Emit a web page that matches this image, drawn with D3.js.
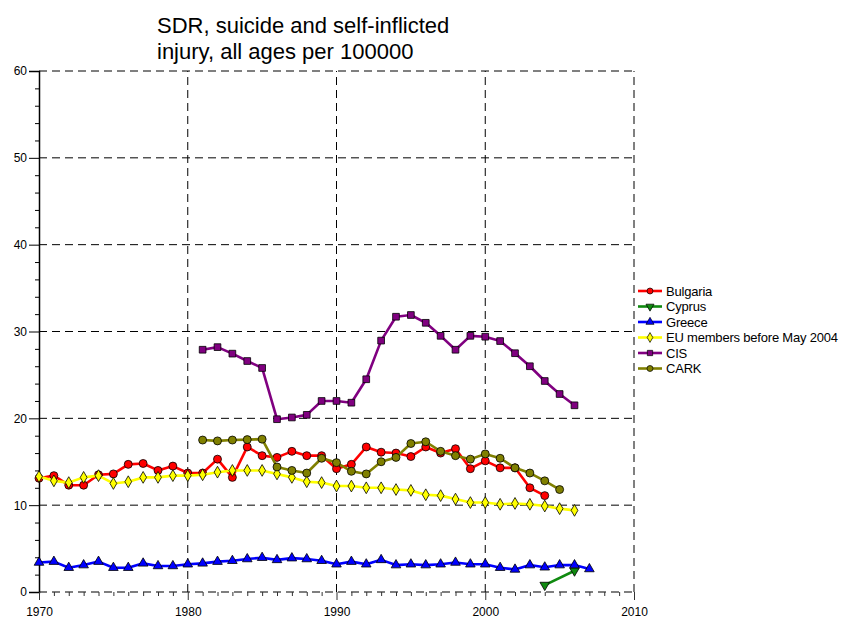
<!DOCTYPE html>
<html>
<head>
<meta charset="utf-8">
<script src="https://cdn.jsdelivr.net/npm/d3@7"></script>
<style>
  body { margin: 0; background: #fff; }
  svg { font-family: "Liberation Sans", Arial, sans-serif; }
</style>
</head>
<body>
<div id="chart"></div>
<script>
// values
var yearsBulgaria = d3.range(1970, 2005);
var bulgaria = [13.1, 13.4, 12.3, 12.3, 13.5, 13.6, 14.7, 14.8, 14.0, 14.5, 13.7, 13.7, 15.3, 13.2, 16.7, 15.7, 15.5, 16.2, 15.7, 15.7,
                14.2, 14.7, 16.7, 16.1, 16.0, 15.6, 16.7, 16.0, 16.5, 14.2, 15.1, 14.3, 14.3, 12.0, 11.1];
var yearsCyprus = [2004, 2006];
var cyprus = [0.8, 2.45];
var yearsGreece = d3.range(1970, 2008);
var greece = [3.4, 3.5, 2.8, 3.1, 3.5, 2.8, 2.8, 3.3, 3.0, 3.0, 3.2, 3.3, 3.5, 3.6, 3.8, 3.95, 3.7, 3.9, 3.8, 3.6,
              3.2, 3.5, 3.2, 3.7, 3.1, 3.2, 3.1, 3.2, 3.4, 3.2, 3.2, 2.8, 2.6, 3.1, 2.85, 3.1, 3.1, 2.65];
var yearsEU = d3.range(1970, 2007);
var eu = [13.3, 12.8, 12.6, 13.2, 13.4, 12.5, 12.7, 13.2, 13.2, 13.4, 13.4, 13.5, 13.8, 14.0, 14.0, 14.0, 13.6, 13.2, 12.7, 12.6,
          12.2, 12.2, 12.0, 12.0, 11.8, 11.7, 11.2, 11.1, 10.7, 10.3, 10.3, 10.1, 10.2, 10.1, 9.9, 9.6, 9.4];
var yearsCIS = d3.range(1981, 2007);
var cis = [27.9, 28.2, 27.45, 26.6, 25.8, 19.9, 20.1, 20.4, 22.0, 22.0, 21.8, 24.5, 28.95, 31.7, 31.9, 31.0,
           29.5, 27.9, 29.5, 29.4, 28.9, 27.5, 26.0, 24.3, 22.8, 21.5];
var yearsCARK = d3.range(1981, 2006);
var cark = [17.5, 17.4, 17.5, 17.55, 17.6, 14.4, 14.0, 13.7, 15.4, 14.9, 13.9, 13.6, 15.0, 15.5, 17.1, 17.3,
            16.2, 15.7, 15.3, 15.9, 15.4, 14.3, 13.7, 12.8, 11.8];

var seriesNames = ["Bulgaria", "Cyprus", "Greece", "EU members before May 2004", "CIS", "CARK"];
var seriesColors = ["#ff0000", "#108a10", "#0000ff", "#ffff00", "#800080", "#808000"];
var seriesSymbols = [d3.symbolCircle, d3.symbolTriangle, d3.symbolTriangle, d3.symbolDiamond, d3.symbolSquare, d3.symbolCircle];
var seriesYears = [yearsBulgaria, yearsCyprus, yearsGreece, yearsEU, yearsCIS, yearsCARK];
var seriesValues = [bulgaria, cyprus, greece, eu, cis, cark];

var titleLines = ["SDR, suicide and self-inflicted", "injury, all ages per 100000"];

let width = 842, height = 618;
let margin = {left: 39, right: 208, top: 71, bottom: 26};

let svg = d3.select('#chart').append('svg')
    .attr('width', width)
    .attr('height', height);

let x = d3.scaleLinear().domain([1970, 2010]).range([margin.left, width - margin.right]);
let y = d3.scaleLinear().domain([0, 60]).range([height - margin.bottom, margin.top]);

// title
svg.append('g').selectAll('text')
    .data(titleLines)
    .enter().append('text')
    .attr('x', 157)
    .attr('y', (d, i) => 33 + i * 26)
    .style('font-size', '22px')
    .text(d => d);

// grid
let dash = '8,5';
svg.append('g').selectAll('line')
    .data(d3.range(0, 61, 10))
    .enter().append('line')
    .attr('x1', x(1970)).attr('x2', x(2010))
    .attr('y1', d => y(d)).attr('y2', d => y(d))
    .attr('stroke', d => d === 0 ? '#555' : '#000')
    .attr('stroke-width', d => d === 0 ? 1.5 : 1)
    .attr('stroke-dasharray', dash);

svg.append('g').selectAll('line')
    .data([1980, 1990, 2000, 2010])
    .enter().append('line')
    .attr('x1', d => x(d)).attr('x2', d => x(d))
    .attr('y1', y(0)).attr('y2', y(60))
    .attr('stroke', '#000')
    .attr('stroke-dasharray', dash);

// y axis
let yAxis = svg.append('g')
    .attr('transform', `translate(${margin.left},0)`)
    .call(d3.axisLeft(y).tickValues(d3.range(0, 61, 10)).tickSize(10).tickPadding(2));
yAxis.append('g').call(d3.axisLeft(y).tickValues(d3.range(0, 61, 2).filter(d => d % 10)).tickSize(4).tickFormat(''));
yAxis.selectAll('.domain').attr('stroke', '#000').attr('stroke-width', 1.5);
yAxis.selectAll('g g .domain').remove();
yAxis.selectAll('text').style('font-size', '12px').attr('fill', '#000');

// x axis
let xAxis = svg.append('g')
    .attr('transform', `translate(0,${y(0)})`)
    .call(d3.axisBottom(x).tickValues(d3.range(1970, 2011, 10)).tickSize(8).tickPadding(7).tickFormat(d3.format('d')));
xAxis.append('g').call(d3.axisBottom(x).tickValues(d3.range(1970, 2011).filter(d => d % 10)).tickSize(4).tickFormat(''));
xAxis.selectAll('.domain').remove();
xAxis.selectAll('line').attr('stroke', '#333');
xAxis.selectAll('text').style('font-size', '12px').attr('fill', '#000');

// series
let line = d3.line().x(d => x(d[0])).y(d => y(d[1]));
let symbolSize = [50, 40, 40, 40, 45, 50];

seriesNames.forEach((name, i) => {
    let pts = seriesYears[i].map((yr, j) => [yr, seriesValues[i][j]]);
    let g = svg.append('g').attr('class', 'series');
    g.append('path')
        .datum(pts)
        .attr('d', line)
        .attr('fill', 'none')
        .attr('stroke', seriesColors[i])
        .attr('stroke-width', 2.6)
        .attr('stroke-linejoin', 'round');
    let rot = (i === 1) ? 180 : 0;
    g.selectAll('path.pt')
        .data(pts)
        .enter().append('path')
        .attr('class', 'pt')
        .attr('d', d3.symbol().type(seriesSymbols[i]).size(symbolSize[i]))
        .attr('transform', d => `translate(${x(d[0])},${y(d[1])}) rotate(${rot})`)
        .attr('fill', seriesColors[i])
        .attr('stroke', '#000')
        .attr('stroke-width', 0.8);
});

// legend
let legend = svg.append('g').attr('transform', 'translate(638,291)');
let item = legend.selectAll('g')
    .data(seriesNames)
    .enter().append('g')
    .attr('transform', (d, i) => `translate(0,${i * 15.5})`);
item.append('line')
    .attr('x1', 0).attr('x2', 24)
    .attr('stroke', (d, i) => seriesColors[i])
    .attr('stroke-width', 2.6);
item.append('path')
    .attr('d', (d, i) => d3.symbol().type(seriesSymbols[i]).size(28)())
    .attr('transform', (d, i) => `translate(12,0) rotate(${i === 1 ? 180 : 0})`)
    .attr('fill', (d, i) => seriesColors[i])
    .attr('stroke', '#000')
    .attr('stroke-width', 0.7);
item.append('text')
    .attr('x', 28)
    .attr('dy', '0.35em')
    .style('font-size', '13px')
    .style('letter-spacing', '-0.2px')
    .text(d => d);
</script>
</body>
</html>
